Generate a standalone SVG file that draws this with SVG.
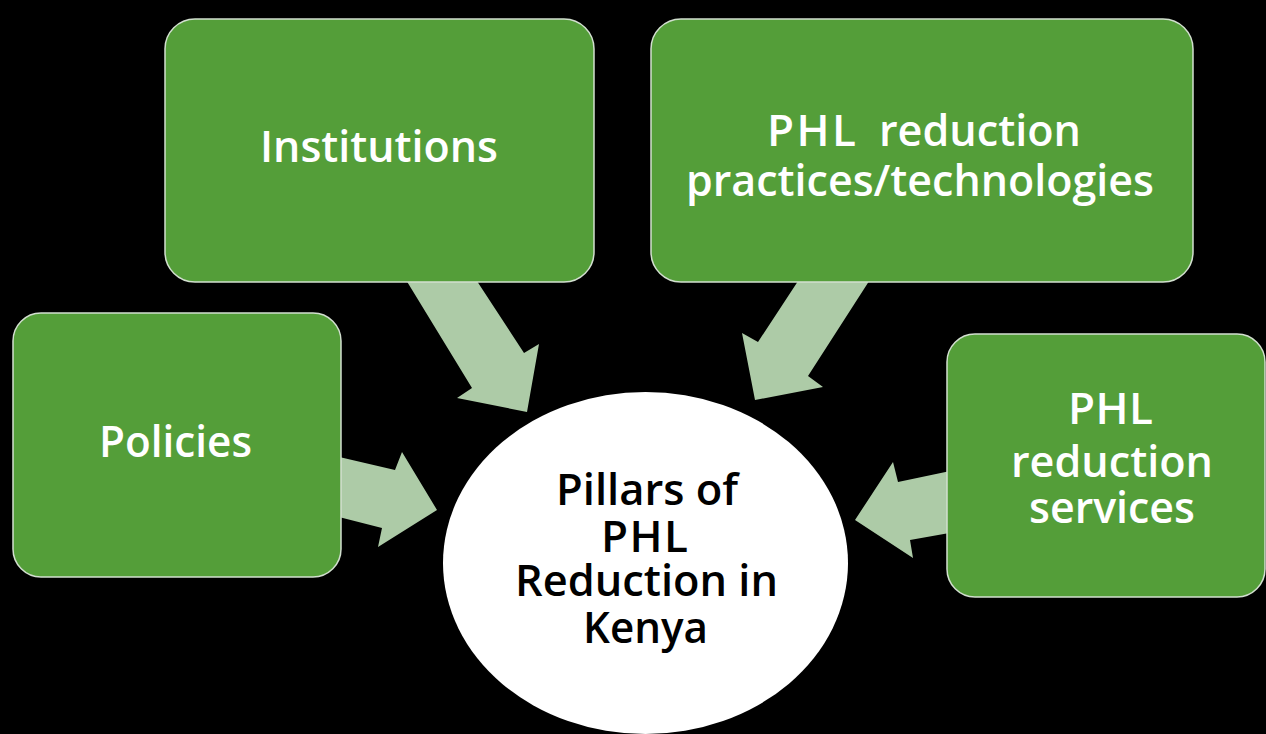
<svg xmlns="http://www.w3.org/2000/svg" width="1266" height="734" viewBox="0 0 1266 734">
  <style>
    .box { fill: #549E39; stroke: #D2DFCF; stroke-width: 1.5; }
    .arrow { fill: #ADCBA7; stroke: none; }
    .lbl { font-family: "Open Sans", "Noto Sans", "Liberation Sans", sans-serif; font-size: 44px; font-weight: 600; fill: #FFFFFF; }
    .dark { fill: #000000; }
  </style>
  <rect x="0" y="0" width="1266" height="734" fill="#000000"/>
  <g id="connectors">
    <polygon class="arrow" points="403,275 472,388 457,398 527,412 539,344 524,353 473,275"/>
    <polygon class="arrow" points="802,275 758,342 742,333 755,400 823,387 808,376 873,275"/>
    <polygon class="arrow" points="335,456 395,470 402,452 437,510 378,547 382,528 335,516"/>
    <polygon class="arrow" points="955,470 898,482 893,462 855,520 913,558 910,540 955,532"/>
  </g>
  <g id="node-institutions">
    <rect class="box" x="165" y="19" width="429" height="263" rx="30" ry="30"/>
    <text class="lbl" x="260" y="162" textLength="238" lengthAdjust="spacingAndGlyphs">Institutions</text>
  </g>
  <g id="node-practices">
    <rect class="box" x="651" y="19" width="542" height="263" rx="30" ry="30"/>
    <text class="lbl" x="767" y="146" textLength="89" lengthAdjust="spacing">PHL</text>
    <text class="lbl" x="879" y="146" textLength="202" lengthAdjust="spacingAndGlyphs">reduction</text>
    <text class="lbl" x="686" y="196" textLength="468" lengthAdjust="spacingAndGlyphs">practices/technologies</text>
  </g>
  <g id="node-policies">
    <rect class="box" x="13" y="313" width="328" height="264" rx="28" ry="28"/>
    <text class="lbl" x="99" y="457" textLength="153" lengthAdjust="spacingAndGlyphs">Policies</text>
  </g>
  <g id="node-services">
    <rect class="box" x="947" y="334" width="318" height="263" rx="28" ry="28"/>
    <text class="lbl" x="1068" y="424" textLength="85" lengthAdjust="spacing">PHL</text>
    <text class="lbl" x="1011" y="477" textLength="202" lengthAdjust="spacingAndGlyphs">reduction</text>
    <text class="lbl" x="1029" y="523" textLength="166" lengthAdjust="spacingAndGlyphs">services</text>
  </g>
  <g id="node-pillars">
    <ellipse cx="645.5" cy="563" rx="202.5" ry="171" fill="#FFFFFF"/>
    <text class="lbl dark" x="556" y="505" textLength="182" lengthAdjust="spacingAndGlyphs">Pillars of</text>
    <text class="lbl dark" x="601" y="552" textLength="87" lengthAdjust="spacing">PHL</text>
    <text class="lbl dark" x="515" y="596" textLength="263" lengthAdjust="spacingAndGlyphs">Reduction in</text>
    <text class="lbl dark" x="583" y="643" textLength="125" lengthAdjust="spacingAndGlyphs">Kenya</text>
  </g>
</svg>
